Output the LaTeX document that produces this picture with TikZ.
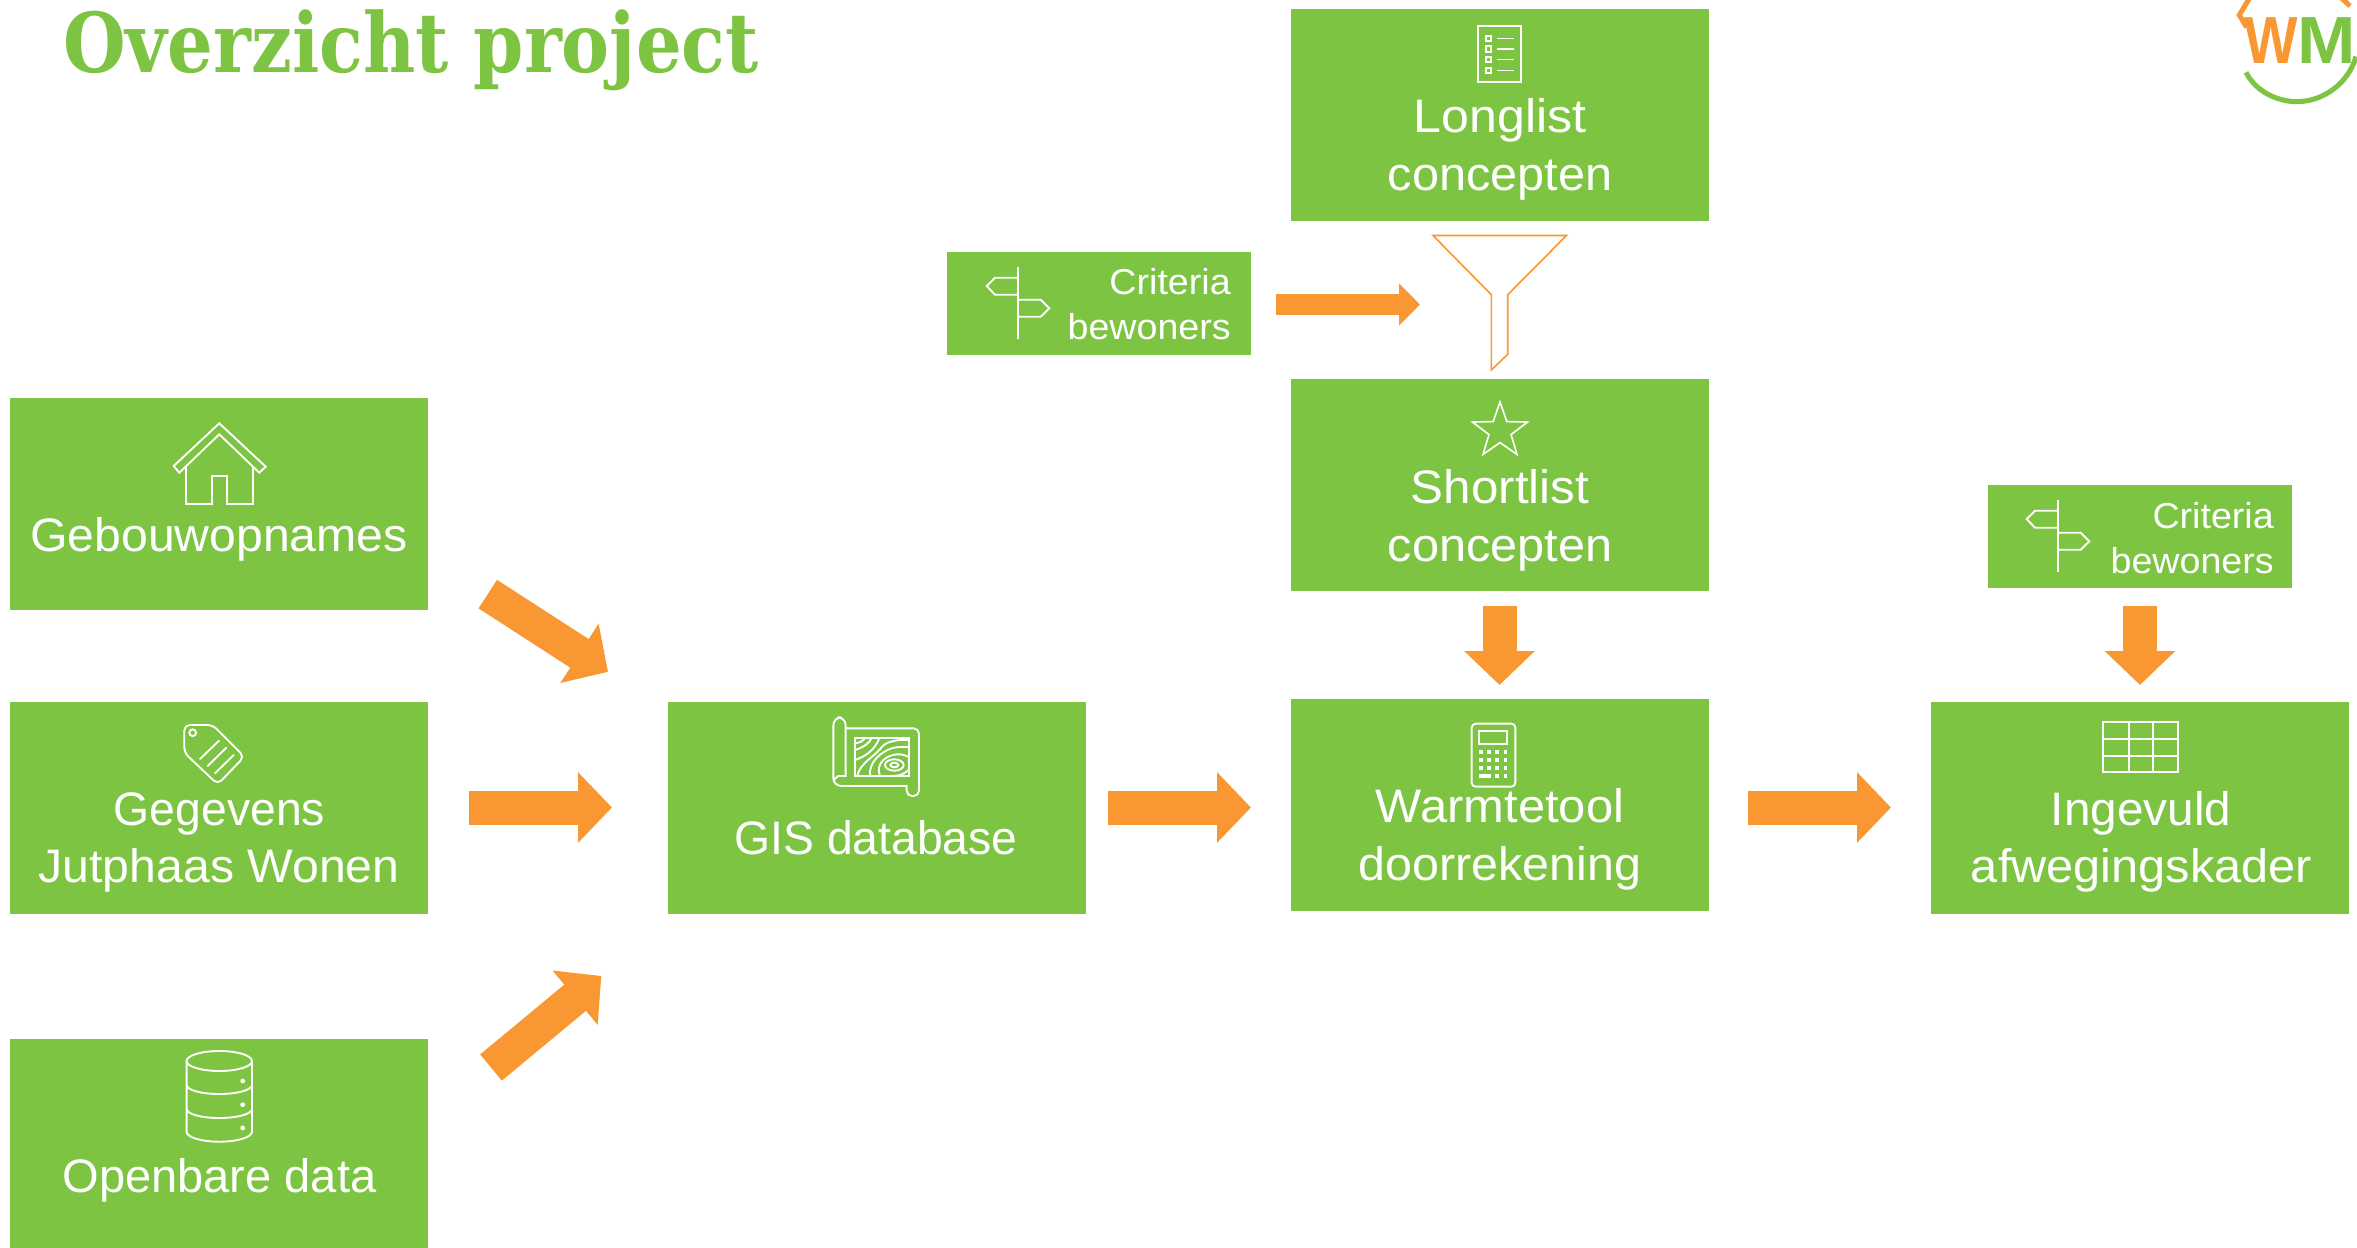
\documentclass[tikz,border=0pt]{standalone}
\usepackage{fontspec}
\setmainfont{Liberation Sans}
\newfontfamily\titlefont{DejaVu Serif}
\usetikzlibrary{arrows.meta,shapes.geometric}
\definecolor{wmgreen}{HTML}{7DC443}
\definecolor{wmorange}{HTML}{F99733}
\tikzset{
  bigbox/.style={fill=wmgreen,draw=none,inner sep=0pt,minimum width=313.5pt,minimum height=159pt},
  smallbox/.style={fill=wmgreen,draw=none,inner sep=0pt,minimum width=228pt,minimum height=77.25pt},
  bigtext/.style={text=white,inner sep=0pt,anchor=base,align=center,font=\fontsize{35.25pt}{43.5pt}\selectfont},
  smalltext/.style={text=white,inner sep=0pt,anchor=base east,align=right,xscale=1.045,font=\fontsize{27pt}{33pt}\selectfont},
  icon/.style={draw=white,line width=1.4pt,line join=miter},
  thickarrow/.style={draw=wmorange,line width=25.5pt,-{Triangle[length=25.5pt,width=51.5pt,fill=wmorange]}},
  thinarrow/.style={draw=wmorange,line width=15.75pt,-{Triangle[length=15.75pt,width=30.75pt,fill=wmorange]}},
  funnel/.style={draw=wmorange,line width=1.2pt,fill=white},
  pics/signpost/.style={code={
    \draw[icon] (0,0) -- (0,72.3);
    \draw[icon] (0,11) -- (-23,11) -- (-31.3,19.3) -- (-23,28) -- (0,28);
    \draw[icon] (0,33) -- (22.7,33) -- (31.3,41.6) -- (22.7,50) -- (0,50);
  }},
}
\begin{document}
\begin{tikzpicture}[x=0.75pt,y=-0.75pt]
\useasboundingbox (0,0) rectangle (2357,1247);

% title
\node[anchor=base west,inner sep=0pt,text=wmgreen,xscale=0.87,font=\titlefont\bfseries\fontsize{62pt}{70pt}\selectfont] (title) at (63,72) {Overzicht project};

% boxes
\node[bigbox] (long) at (1500,115) {};
\node[bigbox] (short) at (1500,485) {};
\node[bigbox] (warm) at (1500,805) {};
\node[bigbox] (geb) at (219,504) {};
\node[bigbox] (geg) at (219,807.5) {};
\node[bigbox] (open) at (219,1145) {};
\node[bigbox] (gis) at (876.5,807.5) {};
\node[bigbox] (ing) at (2139.5,807.5) {};
\node[smallbox] (critA) at (1099,303.5) {};
\node[smallbox] (critB) at (2139.5,536.5) {};

% texts
\node[bigtext,xscale=1.065] (longT1) at (1500,132) {Longlist};
\node[bigtext,xscale=1.035] (longT2) at (1500,190) {concepten};
\node[bigtext,xscale=1.05] (shortT1) at (1500,503) {Shortlist};
\node[bigtext,xscale=1.035] (shortT2) at (1500,561) {concepten};
\node[bigtext,xscale=1.04] (warmT1) at (1500,822) {Warmtetool};
\node[bigtext,xscale=1.03] (warmT2) at (1500,880) {doorrekening};
\node[bigtext,xscale=1.025] (gebT) at (219,551) {Gebouwopnames};
\node[bigtext,xscale=0.985] (gegT1) at (219.5,825) {Gegevens};
\node[bigtext,xscale=1.026] (gegT2) at (219,882) {Jutphaas Wonen};
\node[bigtext] (openT) at (219.5,1192) {Openbare data};
\node[bigtext,xscale=0.985] (gisT) at (876,854) {GIS database};
\node[bigtext,xscale=1.015] (ingT1) at (2141,825) {Ingevuld};
\node[bigtext,xscale=1.036] (ingT2) at (2141.5,882) {afwegingskader};
\node[smalltext] (critAT1) at (1231,294) {Criteria};
\node[smalltext] (critAT2) at (1231,339) {bewoners};
\node[smalltext] (critBT1) at (2274,528) {Criteria};
\node[smalltext] (critBT2) at (2274,573) {bewoners};

% arrows
\coordinate (a1s) at (487.8,594.1); \coordinate (a1e) at (608,671.8);
\coordinate (a2s) at (469,807.5);   \coordinate (a2e) at (612,807.5);
\coordinate (a3s) at (491,1067.5);  \coordinate (a3e) at (601.3,976);
\coordinate (a4s) at (1108,807.5);  \coordinate (a4e) at (1251,807.5);
\coordinate (a5s) at (1748,807.5);  \coordinate (a5e) at (1891,807.5);
\coordinate (a6s) at (1499.5,606);  \coordinate (a6e) at (1499.5,685);
\coordinate (a7s) at (2140,606);    \coordinate (a7e) at (2140,685);
\coordinate (a8s) at (1276,304.5);  \coordinate (a8e) at (1420,304.5);
\draw[thickarrow] (a1s) -- (a1e);
\draw[thickarrow] (a2s) -- (a2e);
\draw[thickarrow] (a3s) -- (a3e);
\draw[thickarrow] (a4s) -- (a4e);
\draw[thickarrow] (a5s) -- (a5e);
\draw[thickarrow] (a6s) -- (a6e);
\draw[thickarrow] (a7s) -- (a7e);
\draw[thinarrow] (a8s) -- (a8e);

% funnel
\draw[funnel] (1433,235.5) -- (1566.5,235.5) -- (1507.7,294.7) -- (1507.7,354.3) -- (1491.3,370) -- (1491.3,294.7) -- cycle;

% list icon
\draw[icon] (1478.3,26) rectangle (1520.7,82);
\foreach \yy in {38.3,49,59.7,70.3}{
  \draw[icon] (1485.6,\yy-2.7) rectangle (1491,\yy+2.7);
  \draw[icon,line width=1.1pt] (1497.3,\yy) -- (1514,\yy);
}

% star icon
\node[star,star points=5,star point ratio=2.5,draw=white,line width=1.2pt,inner sep=0pt,minimum size=43.5pt] (staricon) at (1500,431) {};

% signposts
\pic at (1018,266.7) {signpost};
\pic at (2058,499.7) {signpost};

% house
\draw[icon] (219.3,423.3) -- (265.7,466.7) -- (259.3,472.7) -- (219.3,434.3) -- (179.3,472.7) -- (173.7,466) -- cycle;
\draw[icon] (186.3,466) -- (186.3,504) -- (212.3,504) -- (212.3,476) -- (226.7,476) -- (226.7,504) -- (253.3,504) -- (253.3,466);

% tag
\draw[icon,rounded corners=4pt] (184.3,725) -- (212.7,725) -- (244.3,756.7) -- (217.7,784.3) -- (184.3,752.7) -- cycle;
\draw[icon] (192.7,732.7) circle[radius=3.4];
\draw[icon,line cap=round] (219,740.7) -- (200,759);
\draw[icon,line cap=round] (226.3,747.7) -- (207.7,766);
\draw[icon,line cap=round] (233.7,755) -- (215,773.3);

% database
\draw[icon] (219.3,1061) ellipse[x radius=32.7,y radius=10];
\draw[icon] (186.6,1061) -- (186.6,1131.7) arc[start angle=180,end angle=0,x radius=32.7,y radius=10] -- (252,1061);
\draw[icon] (186.6,1085) arc[start angle=180,end angle=0,x radius=32.7,y radius=9];
\draw[icon] (186.6,1109) arc[start angle=180,end angle=0,x radius=32.7,y radius=9];
\foreach \yy in {1081,1104.7,1128}{\fill[white] (242.7,\yy) circle[radius=2.4];}

% map
\begin{scope}[shift={(800,700)},scale=1/3]
  \draw[icon,rounded corners=4pt] (137,85) -- (357,85) -- (357,288) -- (320,288) [sharp corners] -- (320,258) [rounded corners=6pt] -- (100,258) -- (100,52) -- (137,52) [sharp corners] -- (137,228) -- (115,228) [rounded corners=4pt] -- (100,240);
  \draw[icon] (165,114) rectangle (327,228);
  \begin{scope}
    \clip (165,114) rectangle (327,228);
    \draw[icon] (283,195) ellipse[x radius=12,y radius=7];
    \draw[icon] (283,195) ellipse[x radius=28,y radius=17];
    \draw[icon] (165,130) .. controls (180,128) and (190,122) .. (195,114);
    \draw[icon] (165,150) .. controls (190,142) and (208,130) .. (215,114);
    \draw[icon] (165,180) .. controls (195,170) and (225,150) .. (238,114);
    \draw[icon] (172,228) .. controls (178,190) and (225,170) .. (248,138) .. controls (265,122) and (300,118) .. (327,120);
    \draw[icon] (210,228) .. controls (205,185) and (245,155) .. (275,145) .. controls (290,140) and (310,140) .. (327,142);
    \draw[icon] (240,228) .. controls (225,190) and (260,165) .. (290,163) .. controls (305,162) and (318,166) .. (327,172);
    \draw[icon] (280,228) .. controls (295,228) and (315,222) .. (327,208);
  \end{scope}
\end{scope}

% calculator
\begin{scope}[shift={(1430,700)},scale=1/3]
  \draw[icon,rounded corners=3pt] (125,71) rectangle (256,260);
  \draw[icon] (148,93) rectangle (232,133);
  \foreach \xx in {153,177,201,226}{
    \foreach \yy in {156,180,204}{\fill[white] (\xx-5.5,\yy-5.5) rectangle (\xx+5.5,\yy+5.5);}
  }
  \fill[white] (147,222.5) rectangle (183,233.5);
  \foreach \xx in {201,226}{\fill[white] (\xx-5.5,222.5) rectangle (\xx+5.5,233.5);}
\end{scope}

% table
\begin{scope}[shift={(2080,700)},scale=1/3]
  \draw[icon] (70,67) rectangle (294,215);
  \draw[icon] (146,67) -- (146,215);
  \draw[icon] (218,67) -- (218,215);
  \draw[icon] (70,118) -- (294,118);
  \draw[icon] (70,167) -- (294,167);
\end{scope}

% logo
\begin{scope}[shift={(2180,0)},scale=1/3]
  \draw[wmorange,line width=3.8pt] (210,-8) -- (178,45) -- (200,82);
  \draw[wmorange,line width=3.8pt] (485,-5) -- (510,18);
  \draw[wmgreen,line width=3.8pt] (198,217) .. controls (230,280) and (300,305) .. (350,305) .. controls (430,305) and (505,250) .. (528,170);
  \node[anchor=base,inner sep=0pt,text=wmorange,xscale=0.85,font=\bfseries\fontsize{50pt}{50pt}\selectfont] (logoW) at (275,190) {W};
  \node[anchor=base,inner sep=0pt,text=wmgreen,xscale=1.05,font=\bfseries\fontsize{50pt}{50pt}\selectfont] (logoM) at (440,190) {M};
\end{scope}
\end{tikzpicture}
\end{document}
